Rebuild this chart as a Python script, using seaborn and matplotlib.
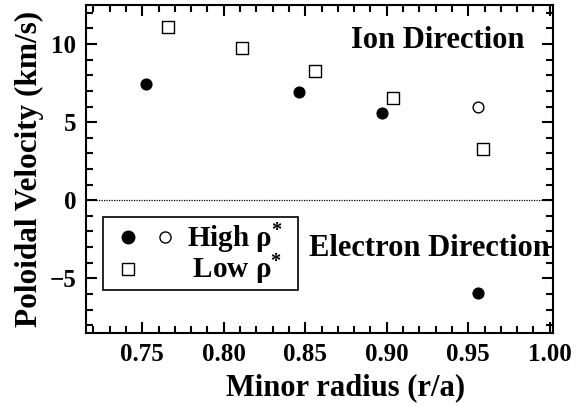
import matplotlib
matplotlib.use("Agg")
import matplotlib.pyplot as plt
import seaborn as sns
import pandas as pd
from matplotlib.lines import Line2D
from matplotlib.patches import Rectangle
from matplotlib.legend_handler import HandlerTuple
from matplotlib.ticker import MultipleLocator

# Data
high_filled_x = [0.7525, 0.846, 0.897, 0.956]
high_filled_y = [7.44, 6.92, 5.58, -5.96]
high_open_x = [0.956]
high_open_y = [5.96]
low_x = [0.766, 0.811, 0.856, 0.904, 0.959]
low_y = [11.09, 9.74, 8.27, 6.54, 3.27]

xticks = [0.75, 0.80, 0.85, 0.90, 0.95, 1.00]
yticks = [-5, 0, 5, 10]

sns.set_style("white")
plt.rcParams['font.family'] = ['Liberation Serif', 'DejaVu Serif']
plt.rcParams['font.weight'] = 'bold'
plt.rcParams['text.color'] = 'black'
plt.rcParams['axes.labelcolor'] = 'black'
plt.rcParams['xtick.color'] = 'black'
plt.rcParams['ytick.color'] = 'black'
plt.rcParams['mathtext.fontset'] = 'custom'
plt.rcParams['mathtext.rm'] = 'Liberation Serif'
plt.rcParams['mathtext.it'] = 'Liberation Serif:italic'
plt.rcParams['mathtext.bf'] = 'Liberation Serif:bold'

fig = plt.figure(figsize=(5.77, 4.07), dpi=100)
ax = fig.add_axes([86/577, 1-333/407, (553-86)/577, (333-5)/407])

df_hf = pd.DataFrame({"x": high_filled_x, "y": high_filled_y})
df_ho = pd.DataFrame({"x": high_open_x, "y": high_open_y})
df_lo = pd.DataFrame({"x": low_x, "y": low_y})

sns.scatterplot(data=df_hf, x="x", y="y", ax=ax, marker="o", s=60,
                color="black", edgecolor="black", linewidth=1)
sns.scatterplot(data=df_ho, x="x", y="y", ax=ax, marker="o", s=60,
                facecolor="white", edgecolor="black", linewidth=1)
sns.scatterplot(data=df_lo, x="x", y="y", ax=ax, marker="s", s=70,
                facecolor="white", edgecolor="black", linewidth=1)

ax.axhline(0, color="black", linestyle=(0, (1, 1)), linewidth=0.9, zorder=0)

ax.set_xlim(0.7155, 1.002)
ax.set_ylim(-8.5, 12.5)
ax.set_xticks(xticks)
ax.set_yticks(yticks)
ax.set_xticklabels([f"{v:.2f}" for v in xticks], fontsize=18, fontweight='bold')
ax.set_yticklabels([f"{v}".replace("-", "\u2212") for v in yticks], fontsize=18, fontweight='bold')
ax.xaxis.set_minor_locator(MultipleLocator(0.01))
ax.yaxis.set_minor_locator(MultipleLocator(1))
ax.tick_params(which='both', direction='in', top=True, right=True,
               bottom=True, left=True, width=1.5, color='black')
ax.tick_params(which='major', length=8, pad=7)
ax.tick_params(which='minor', length=5)
for sp in ax.spines.values():
    sp.set_linewidth(1.5)
    sp.set_color('black')

ax.set_xlabel("Minor radius (r/a)", fontsize=22, fontweight='bold')
ax.xaxis.set_label_coords((346 - 86) / 467, -(388 - 333) / 328)
ax.xaxis.label.set_va('center')
ax.set_ylabel("Poloidal Velocity (km/s)", fontsize=22.5, fontweight='bold', labelpad=4)

ax.text(0.94, 0.892, "Ion Direction", transform=ax.transAxes, ha='right',
        va='center', fontsize=22, fontweight='bold')
ax.text(0.993, 0.257, "Electron Direction", transform=ax.transAxes, ha='right',
        va='center', fontsize=22, fontweight='bold')

h_filled = Line2D([], [], marker='o', color='black', linestyle='none', markersize=9)
h_open = Line2D([], [], marker='o', markerfacecolor='white', markeredgecolor='black',
                linestyle='none', markersize=8, markeredgewidth=1)
h_sq = Line2D([], [], marker='s', markerfacecolor='white', markeredgecolor='black',
              linestyle='none', markersize=8.5, markeredgewidth=1)
h_none = Line2D([], [], linestyle='none', marker=None)
leg = ax.legend([(h_filled, h_open), (h_sq, h_none)],
                [r"High $\mathrm{\rho}^{*}$", "\u2009" + r"Low $\mathrm{\rho}^{*}$"],
                handler_map={tuple: HandlerTuple(ndivide=None, pad=-0.144)},
                loc='upper left', bbox_to_anchor=(0.0364, 0.3537),
                fontsize=21, frameon=False, handlelength=2.68,
                handletextpad=0.05, borderpad=0.15, labelspacing=-0.1,
                borderaxespad=0)
for t in leg.get_texts():
    t.set_fontweight('bold')

# legend frame
ax.add_patch(Rectangle(((103 - 86) / 467, (333 - 290) / 328), 195 / 467, 73 / 328,
                       transform=ax.transAxes, facecolor='white', edgecolor='black',
                       linewidth=1.2, zorder=4))

fig.savefig("out.png", dpi=100)
